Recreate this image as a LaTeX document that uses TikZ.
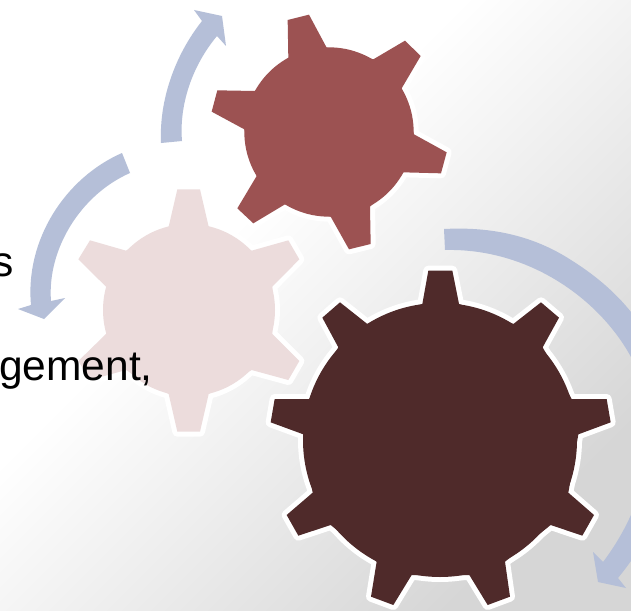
\documentclass[tikz,border=0pt]{standalone}
\usepackage{fontspec}
\setmainfont{Liberation Sans}
\definecolor{arrowblue}{HTML}{B5BFD8}
\definecolor{gearred}{HTML}{9C5252}
\definecolor{gearpink}{HTML}{ECDCDC}
\definecolor{geardark}{HTML}{4F2A2A}
\definecolor{bgshade}{HTML}{D6D6D6}
\pgfdeclareverticalshading{pagefade}{100bp}{color(0bp)=(white);color(41bp)=(white);color(75bp)=(bgshade);color(100bp)=(bgshade)}
\tikzset{
  gearedge/.style={draw=white,line width=10pt,line join=round},
  flowarrow/.style={fill=arrowblue},
  bodytext/.style={inner sep=0pt,anchor=base east,font=\fontsize{42.5}{42.5}\selectfont,text=black}
}
% a gear: its tooth polygon and its round body, white edge first, then the fill
\newcommand{\geardraw}[4]{%
  \path[gearedge] plot coordinates {#4} -- cycle;
  \path[gearedge] (#2) circle[radius=#3];
  \fill[#1] plot coordinates {#4} -- cycle;
  \fill[#1] (#2) circle[radius=#3];
}
\begin{document}
\begin{tikzpicture}[x=1pt,y=-1pt]
\useasboundingbox (0,0) rectangle (631,610);
\clip (0,0) rectangle (631,610);
\shade[shading=pagefade,shading angle=-135] (0,0) rectangle (631,610);

% gears
\begin{scope}[shift={(70,180)},x=0.33333pt,y=-0.33333pt]
\geardraw{gearpink}{357,390}{258}{(296,140)(322,28)(390,28)(416,140)(545,212)(655,181)(688,238)(607,320)(607,462)(688,543)(655,600)(545,570)(416,642)(390,755)(322,755)(296,642)(168,570)(60,600)(25,543)(108,462)(108,320)(25,238)(60,181)(168,212)}
\end{scope}
\begin{scope}[shift={(200,0)},x=0.33333pt,y=-0.33333pt]
\geardraw{gearred}{387,396}{254}{(265,175)(263,60)(327,44)(380,143)(520,178)(615,122)(662,168)(605,265)(642,403)(740,457)(723,520)(610,517)(510,620)(512,732)(447,748)(392,650)(255,613)(160,670)(112,625)(170,528)(133,388)(35,335)(52,271)(165,273)}
\end{scope}
\begin{scope}[shift={(260,220)},x=0.33333pt,y=-0.33333pt]
\geardraw{geardark}{540,660}{411}{(487,252)(505,152)(577,152)(597,252)(760,312)(843,247)(897,293)(848,382)(935,537)(1040,537)(1052,607)(955,643)(925,818)(1002,885)(967,947)(872,915)(735,1025)(750,1130)(683,1155)(628,1065)(455,1065)(400,1155)(333,1130)(350,1025)(212,915)(115,947)(80,885)(158,818)(130,643)(32,607)(44,537)(148,537)(235,382)(187,293)(240,247)(322,312)}
\end{scope}

% curved arrows
\fill[flowarrow] (161,143) .. controls (159,100) and (175,55) .. (202,21)
  -- (194,10) -- (222,16) -- (226,46) -- (217,36)
  .. controls (192,66) and (179,105) .. (182,141) -- cycle;
\fill[flowarrow] (122,153) .. controls (65,178) and (25,240) .. (31,305)
  -- (18,309) -- (44,319) -- (65,298) -- (51,301)
  .. controls (47,250) and (80,195) .. (130,173) -- cycle;
\fill[flowarrow] (444,229) .. controls (500,226) and (540,240) .. (571,260)
  .. controls (595,275) and (615,292) .. (631,312)
  .. controls (690,390) and (690,490) .. (618,578)
  -- (626,588) -- (598,582) -- (593,552) -- (603,562)
  .. controls (650,500) and (665,420) .. (631,357)
  .. controls (600,300) and (530,248) .. (445,250) -- cycle;

% text
\node[bodytext] (linea) at (14,276) {s};
\node[bodytext] (lineb) at (153,380) {gement,};
\end{tikzpicture}
\end{document}
